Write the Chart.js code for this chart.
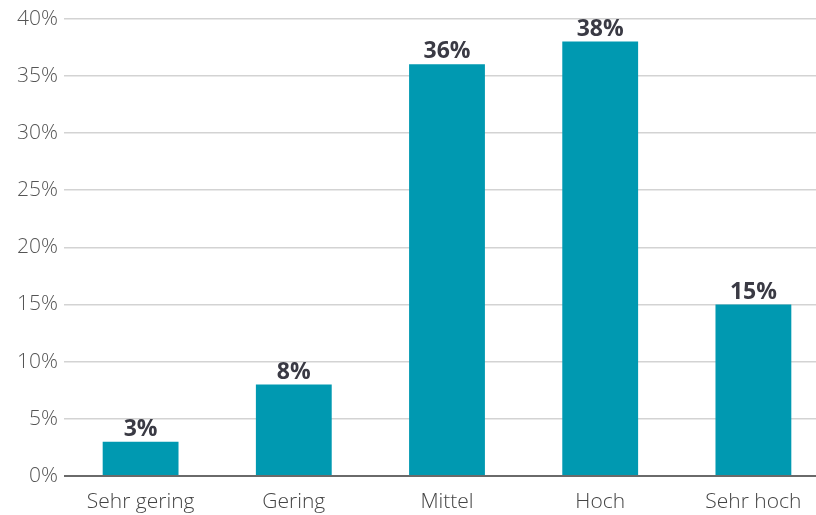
<!DOCTYPE html>
<html>
<head>
<meta charset="utf-8">
<script src="https://cdn.jsdelivr.net/npm/chart.js@4"></script>
<style>
  html, body { margin: 0; padding: 0; background: #fff; overflow: hidden; width: 816px; height: 515px; }
  canvas { display: block; }
</style>
</head>
<body>
<!-- canvas a bit wider than the window: the last category runs past the right edge like in the original -->
<canvas id="chart" width="830" height="515"></canvas>
<script>
// Chart data
const categories = ['Sehr gering', 'Gering', 'Mittel', 'Hoch', 'Sehr hoch'];
const shares = [3, 8, 36, 38, 15];
const yTicks = [0, 5, 10, 15, 20, 25, 30, 35, 40];

// value labels above each bar
const valueLabels = {
  id: 'valueLabels',
  afterDatasetsDraw(chart) {
    const ctx = chart.ctx;
    const meta = chart.getDatasetMeta(0);
    ctx.save();
    ctx.font = 'bold 23px "Open Sans"';
    ctx.fillStyle = '#3a3a44';
    ctx.textAlign = 'center';
    ctx.textBaseline = 'bottom';
    meta.data.forEach((bar, i) => {
      ctx.fillText(shares[i] + '%', bar.x, bar.y - 1);
    });
    ctx.restore();
  }
};

new Chart(document.getElementById('chart'), {
  type: 'bar',
  data: {
    labels: categories,
    datasets: [{
      data: shares,
      backgroundColor: '#0099b1',
      barPercentage: 0.495,
      categoryPercentage: 1
    }]
  },
  options: {
    responsive: false,
    animation: false,
    layout: { padding: { top: 9, right: 0, left: 0, bottom: 0 } },
    plugins: { legend: { display: false }, tooltip: { enabled: false } },
    scales: {
      x: {
        grid: { display: false },
        border: { display: false },
        afterFit(axis) { axis.height = 39; },
        ticks: { color: '#444', font: { family: 'Open Sans', size: 21, weight: 300 }, padding: 5 }
      },
      y: {
        min: 0,
        max: 40,
        afterBuildTicks(axis) { axis.ticks = yTicks.map(v => ({ value: v })); },
        afterFit(axis) { axis.width = 64; },
        border: { display: false },
        grid: {
          drawTicks: false,
          color: c => c.tick && c.tick.value === 0 ? '#6a6a6a' : '#d3d3d3',
          lineWidth: c => c.tick && c.tick.value === 0 ? 2 : 1.5
        },
        ticks: {
          color: '#555',
          padding: 6,
          font: { family: 'Open Sans', size: 21, weight: 300 },
          callback: v => v + '%'
        }
      }
    }
  },
  plugins: [valueLabels]
});
</script>
</body>
</html>
